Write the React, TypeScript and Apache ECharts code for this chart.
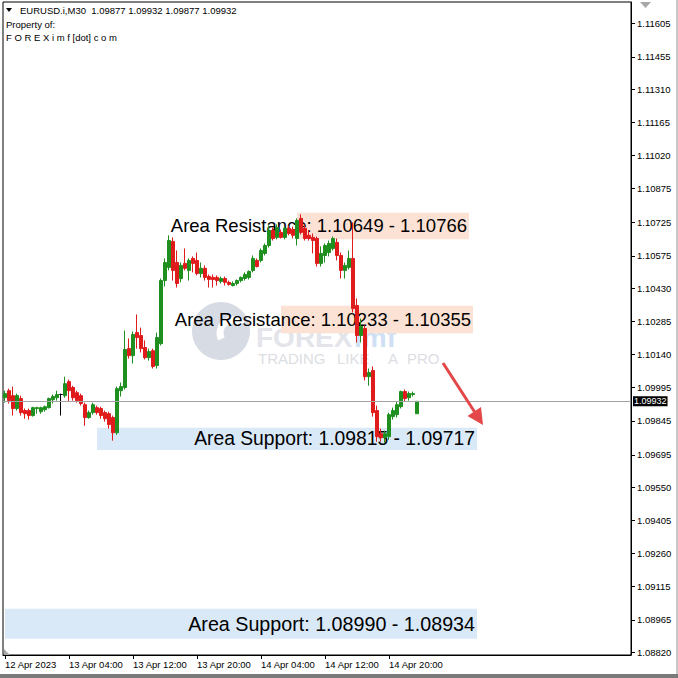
import React, { useEffect, useRef } from "react";
import * as echarts from "echarts";

// ---- Data (EURUSD.i M30, from 12 Apr 2023 20:00) ----
const opens = [
  1.09948, 1.09979, 1.09957, 1.099, 1.09944, 1.09891, 1.09891, 1.09869, 1.099, 1.09886,
  1.09895, 1.09904, 1.09939, 1.09948, 1.09962, 1.09957, 1.10019, 1.09993, 1.0997, 1.09957,
  1.09917, 1.0986, 1.09882, 1.09904, 1.099, 1.09882, 1.09877, 1.0986, 1.09793, 1.09979,
  1.09993, 1.10165, 1.10134, 1.10236, 1.10223, 1.1017, 1.10125, 1.10156, 1.1009, 1.10187,
  1.10466, 1.10524, 1.10639, 1.10546, 1.10475, 1.10542, 1.10511, 1.10564, 1.10555, 1.10497,
  1.1052, 1.10484, 1.1048, 1.1048, 1.10462, 1.10475, 1.10458, 1.10444, 1.10453, 1.10466,
  1.10475, 1.1048, 1.10511, 1.10555, 1.10555, 1.10586, 1.10621, 1.10688, 1.10657, 1.10679,
  1.10657, 1.10697, 1.10692, 1.10652, 1.10741, 1.10697, 1.10666, 1.10657, 1.10652, 1.10542,
  1.10577, 1.1059, 1.10608, 1.10635, 1.10577, 1.10511, 1.10524, 1.10564, 1.10356, 1.10223,
  1.10254, 1.10041, 1.10068, 1.09891, 1.09789, 1.09771, 1.09776, 1.09864, 1.09873, 1.09908,
  1.09975, 1.09948, 1.09962, 1.09877,
];
const highs = [
  1.09979, 1.09988, 1.09997, 1.09966, 1.09957, 1.099, 1.099, 1.09908, 1.09908, 1.09908,
  1.09913, 1.09948, 1.09962, 1.09979, 1.09966, 1.10041, 1.10028, 1.10001, 1.09979, 1.09966,
  1.09926, 1.09891, 1.09926, 1.09913, 1.09908, 1.09891, 1.09886, 1.09869, 1.09997, 1.10015,
  1.10245, 1.1021, 1.10241, 1.10316, 1.10258, 1.10201, 1.10165, 1.10165, 1.10236, 1.10475,
  1.10564, 1.10666, 1.10657, 1.10599, 1.10546, 1.10608, 1.10564, 1.10573, 1.1059, 1.10546,
  1.10533, 1.10493, 1.10493, 1.10489, 1.10484, 1.10484, 1.10466, 1.10462, 1.10471, 1.10484,
  1.10502, 1.10511, 1.10577, 1.10564, 1.10608, 1.1063, 1.1071, 1.10701, 1.10714, 1.10692,
  1.10705, 1.1071, 1.10705, 1.10741, 1.10759, 1.10714, 1.10688, 1.10674, 1.10661, 1.10617,
  1.1063, 1.10643, 1.10661, 1.10652, 1.1059, 1.10546, 1.10599, 1.10723, 1.10387, 1.10298,
  1.10267, 1.10077, 1.10086, 1.09913, 1.09811, 1.09802, 1.09882, 1.09904, 1.09931, 1.09979,
  1.09984, 1.09975, 1.09975, 1.09932,
];
const lows = [
  1.09926, 1.09922, 1.09869, 1.09891, 1.09869, 1.09855, 1.09851, 1.09864, 1.09877, 1.09877,
  1.09886, 1.099, 1.09922, 1.09935, 1.09869, 1.09948, 1.09931, 1.09935, 1.09926, 1.09913,
  1.09824, 1.09855, 1.09873, 1.09873, 1.09855, 1.09842, 1.09811, 1.09758, 1.09784, 1.09953,
  1.09984, 1.10121, 1.10099, 1.10165, 1.10148, 1.10117, 1.10112, 1.10077, 1.10077, 1.10179,
  1.1044, 1.10511, 1.10466, 1.10435, 1.10458, 1.10511, 1.10466, 1.10502, 1.10489, 1.1048,
  1.10466, 1.10435, 1.10435, 1.10444, 1.10453, 1.10444, 1.10444, 1.1044, 1.10444, 1.10458,
  1.10466, 1.10471, 1.10502, 1.10524, 1.10546, 1.10577, 1.10612, 1.10643, 1.10648, 1.10652,
  1.10648, 1.10666, 1.10652, 1.10621, 1.1067, 1.10643, 1.10643, 1.10586, 1.10528, 1.10528,
  1.10546, 1.10573, 1.10599, 1.10555, 1.10475, 1.10475, 1.10515, 1.10325, 1.10192, 1.10192,
  1.10024, 1.10001, 1.09864, 1.09753, 1.09753, 1.09749, 1.09762, 1.09851, 1.0986, 1.099,
  1.09931, 1.09935, 1.09953, 1.09877,
];
const closes = [
  1.09966, 1.09935, 1.099, 1.09957, 1.09882, 1.09877, 1.09869, 1.09904, 1.09904, 1.09904,
  1.09908, 1.09944, 1.09953, 1.09962, 1.09962, 1.1001, 1.09979, 1.09948, 1.09935, 1.09922,
  1.0986, 1.09882, 1.09917, 1.09882, 1.09869, 1.09855, 1.09829, 1.09793, 1.09988, 1.09997,
  1.10161, 1.10134, 1.10227, 1.10214, 1.10165, 1.10125, 1.10152, 1.10086, 1.10214, 1.10466,
  1.10546, 1.10643, 1.10511, 1.10453, 1.10533, 1.1052, 1.10555, 1.10542, 1.10497, 1.1052,
  1.1048, 1.10471, 1.10471, 1.10466, 1.10475, 1.10458, 1.10449, 1.10453, 1.10466, 1.1048,
  1.10493, 1.10506, 1.10564, 1.10528, 1.10599, 1.10621, 1.10688, 1.10652, 1.10701, 1.10657,
  1.10697, 1.10674, 1.10666, 1.10732, 1.10679, 1.10652, 1.10652, 1.10643, 1.10542, 1.10586,
  1.10621, 1.1063, 1.10652, 1.10577, 1.10511, 1.10533, 1.10564, 1.10342, 1.10223, 1.10263,
  1.10041, 1.10059, 1.09882, 1.09776, 1.09771, 1.09789, 1.09873, 1.09891, 1.09917, 1.09975,
  1.09944, 1.09966, 1.09966, 1.09932,
];
const dojiBars = [14];

const xTickLabels = [
  "12 Apr 2023", "13 Apr 04:00", "13 Apr 12:00", "13 Apr 20:00",
  "14 Apr 04:00", "14 Apr 12:00", "14 Apr 20:00",
];
const barsPerTick = 16;
const totalSlots = 157;

const yTickValues = [
  1.11605, 1.11455, 1.1131, 1.11165, 1.1102, 1.10875, 1.10725, 1.10575, 1.1043, 1.10285,
  1.1014, 1.09995, 1.09845, 1.09695, 1.0955, 1.09405, 1.0926, 1.09115, 1.08965, 1.0882,
];
const yMin = 1.0881;
const yMax = 1.11698;

const zoneLabels = [
  "Area Resistance: 1.10649 - 1.10766",
  "Area Resistance: 1.10233 - 1.10355",
  "Area Support: 1.09815 - 1.09717",
  "Area Support: 1.08990 - 1.08934",
];
const zoneTop = [1.10766, 1.10355, 1.09815, 1.09015];
const zoneBottom = [1.10649, 1.10233, 1.09717, 1.08882];
const zoneKind = ["res", "res", "sup", "sup"];

const symbolName = "EURUSD.i,M30";

// layout (bar indices for zone extents)
const zoneStart = [73, 69, 23, 0];
const zoneEnd = [116, 117, 118, 118];
const zoneFont = [18.5, 18.5, 19.3, 19.7];

const GREEN = "#1f8f1f";
const RED = "#e01b1b";
const FONT = "'Liberation Sans', Arial, sans-serif";

export default function App() {
  const ref = useRef<HTMLDivElement>(null);

  useEffect(() => {
    if (!ref.current) return;
    const chart = echarts.init(ref.current, null, { renderer: "svg" });
    const n = opens.length;
    const categories = Array.from({ length: totalSlots }, (_, i) => String(i));
    const candleData = opens.map((o, i) => {
      const item: any = { value: [o, closes[i], lows[i], highs[i]] };
      if (dojiBars.includes(i)) {
        item.itemStyle = { color: "#000", color0: "#000", borderColor: "#000", borderColor0: "#000" };
      }
      return item;
    });
    const last = n - 1;
    const header = `${symbolName}  ${opens[last].toFixed(5)} ${highs[last].toFixed(5)} ${lows[last].toFixed(5)} ${closes[last].toFixed(5)}`;

    const boxAreas = zoneLabels.map((_, k) => [
      { xAxis: zoneStart[k], yAxis: zoneTop[k], itemStyle: { color: zoneKind[k] === "res" ? "#fce2d4" : "#d9e9f8" } },
      { xAxis: zoneEnd[k], yAxis: zoneBottom[k] },
    ]);
    const labelAreas = zoneLabels.map((txt, k) => [
      {
        xAxis: zoneStart[k],
        yAxis: zoneTop[k],
        label: { show: true, formatter: txt, fontSize: zoneFont[k] },
      },
      { xAxis: zoneEnd[k], yAxis: zoneBottom[k] },
    ]);

    const arrowColor = "#e34747";
    const wm = "#dcdee3";

    chart.setOption({
      animation: false,
      backgroundColor: "#ffffff",
      textStyle: { fontFamily: FONT },
      grid: {
        left: 3,
        top: 2,
        right: 47,
        bottom: 23,
        show: true,
        borderColor: "#000",
        borderWidth: 1,
        backgroundColor: "transparent",
      },
      xAxis: {
        type: "category",
        data: categories,
        boundaryGap: true,
        axisLine: { show: true, lineStyle: { color: "#000", width: 1 } },
        axisTick: {
          show: true,
          alignWithLabel: true,
          length: 4,
          interval: (idx: number) => idx % barsPerTick === 0 && idx / barsPerTick < xTickLabels.length,
          lineStyle: { color: "#000" },
        },
        axisLabel: {
          show: true,
          interval: (idx: number) => idx % barsPerTick === 0 && idx / barsPerTick < xTickLabels.length,
          formatter: (_v: string, idx: number) => xTickLabels[idx / barsPerTick] ?? "",
          align: "left",
          margin: 4,
          color: "#000",
          fontSize: 9.5,
          fontFamily: FONT,
        },
        splitLine: { show: false },
      },
      yAxis: {
        type: "value",
        position: "right",
        min: yMin,
        max: yMax,
        scale: true,
        axisLine: { show: true, lineStyle: { color: "#000", width: 1 } },
        axisTick: { show: true, length: 4, customValues: yTickValues, lineStyle: { color: "#000" } },
        axisLabel: {
          show: true,
          customValues: yTickValues,
          formatter: (v: number) => v.toFixed(5),
          margin: 6,
          color: "#000",
          fontSize: 9.5,
          fontFamily: FONT,
        },
        splitLine: { show: false },
      },
      series: [
        {
          type: "line",
          name: "zones",
          data: [],
          z: 1,
          silent: true,
          markArea: { silent: true, precision: 5, label: { show: false }, data: boxAreas },
        },
        {
          type: "line",
          name: "priceLine",
          data: [],
          z: 1.5,
          silent: true,
          markLine: {
            silent: true,
            precision: 5,
            symbol: ["none", "none"],
            lineStyle: { color: "#a3a3a3", width: 1, type: "solid" },
            label: {
              show: true,
              position: "end",
              distance: 2,
              formatter: closes[last].toFixed(5),
              backgroundColor: "#000",
              color: "#fff",
              padding: [1, 1, 0, 1],
              fontSize: 9,
              fontFamily: FONT,
            },
            data: [{ yAxis: closes[last] }],
          },
        },
        {
          type: "candlestick",
          name: "EURUSD",
          z: 2,
          barWidth: 3,
          data: candleData,
          itemStyle: {
            color: GREEN,
            color0: RED,
            borderColor: GREEN,
            borderColor0: RED,
            borderWidth: 1,
          },
        },
        {
          type: "line",
          name: "zoneLabels",
          data: [],
          z: 5,
          silent: true,
          markArea: {
            silent: true,
            precision: 5,
            itemStyle: { color: "rgba(0,0,0,0)" },
            label: {
              show: true,
              position: "insideRight",
              distance: 2,
              color: "#000",
              fontFamily: FONT,
            },
            data: labelAreas,
          },
        },
      ],
      graphic: [
        // watermark
        { type: "circle", z: 0, silent: true, shape: { cx: 221, cy: 331, r: 29 }, style: { fill: "#d7dbe4" } },
        {
          type: "arc", z: 0, silent: true,
          shape: { cx: 233, cy: 333, r: 13, startAngle: Math.PI * 0.85, endAngle: Math.PI * 1.75 },
          style: { stroke: "#ffffff", lineWidth: 7, fill: "none" },
        },
        {
          type: "text", z: 0, silent: true, x: 256, y: 337,
          style: { text: "FOREX", fontSize: 28, fontWeight: "bold", fill: "#e3e5ea", fontFamily: FONT, verticalAlign: "middle" },
        },
        {
          type: "text", z: 0, silent: true, x: 354, y: 337,
          style: { text: "imf", fontSize: 28, fontWeight: "bold", fill: "#cfe0f4", fontFamily: FONT, verticalAlign: "middle" },
        },
        { type: "text", z: 0, silent: true, x: 258, y: 358, style: { text: "TRADING", fontSize: 15, fill: wm, fontFamily: FONT, verticalAlign: "middle" } },
        { type: "text", z: 0, silent: true, x: 337, y: 358, style: { text: "LIKE", fontSize: 15, fill: wm, fontFamily: FONT, verticalAlign: "middle" } },
        { type: "text", z: 0, silent: true, x: 388, y: 358, style: { text: "A", fontSize: 15, fill: wm, fontFamily: FONT, verticalAlign: "middle" } },
        { type: "text", z: 0, silent: true, x: 407, y: 358, style: { text: "PRO", fontSize: 15, fill: wm, fontFamily: FONT, verticalAlign: "middle" } },
        // arrow
        { type: "line", z: 20, silent: true, shape: { x1: 443, y1: 363, x2: 474.5, y2: 411.8 }, style: { stroke: arrowColor, lineWidth: 3 } },
        { type: "polygon", z: 20, silent: true, shape: { points: [[483, 425], [481, 407], [467.5, 416]] }, style: { fill: arrowColor } },
        // header
        { type: "polygon", z: 20, silent: true, shape: { points: [[6, 8], [12, 8], [9, 12]] }, style: { fill: "#000" } },
        { type: "text", z: 20, silent: true, x: 20, y: 10, style: { text: header, fontSize: 9.5, fill: "#000", fontFamily: FONT, verticalAlign: "middle" } },
        { type: "text", z: 20, silent: true, x: 6, y: 24, style: { text: "Property of:", fontSize: 9.5, fill: "#000", fontFamily: FONT, verticalAlign: "middle" } },
        { type: "text", z: 20, silent: true, x: 6, y: 37, style: { text: "F O R E X i m f [dot] c o m", fontSize: 9.5, fill: "#000", fontFamily: FONT, verticalAlign: "middle" } },
        // terminal markers and frame
        { type: "polygon", z: 20, silent: true, shape: { points: [[640, 2], [651, 2], [645.5, 8]] }, style: { fill: "#a8a8a8" } },
        { type: "polygon", z: 20, silent: true, shape: { points: [[4, 649], [4, 655], [10, 655]] }, style: { fill: "#a8a8a8" } },
        { type: "rect", z: 20, silent: true, shape: { x: 676, y: 0, width: 2, height: 678 }, style: { fill: "#c8c8c8" } },
        { type: "rect", z: 20, silent: true, shape: { x: 0, y: 674, width: 678, height: 4 }, style: { fill: "#7a7a7a" } },
      ],
    });
    return () => chart.dispose();
  }, []);

  return (
    <div
      ref={ref}
      style={{ position: "fixed", left: 0, top: 0, width: 678, height: 678, background: "#fff" }}
    />
  );
}
